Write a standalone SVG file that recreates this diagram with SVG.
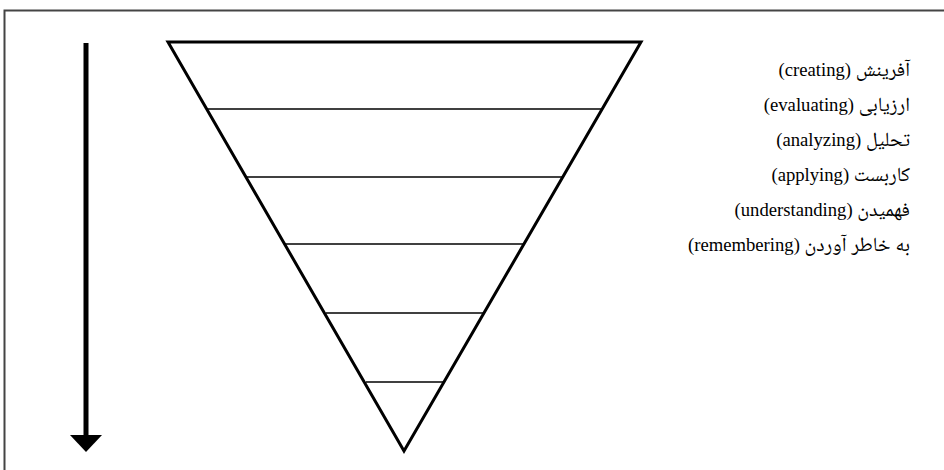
<svg xmlns="http://www.w3.org/2000/svg" width="944" height="470" viewBox="0 0 944 470">
<style>
.frame{fill:none;stroke:#444;stroke-width:2}
.tri{fill:#fff;stroke:#000;stroke-width:3;stroke-linejoin:miter}
.lvl{stroke:#000;stroke-width:1.5}
.lbl{font-family:"Liberation Serif","Noto Naskh Arabic","Noto Sans Arabic","DejaVu Sans",serif;font-size:18.67px;fill:#000;direction:rtl;unicode-bidi:embed}
.fa{font-size:20px}
</style>
<defs>
<marker id="ah" markerUnits="userSpaceOnUse" markerWidth="18" markerHeight="32" refX="0" refY="16" orient="auto" viewBox="0 0 18 32" overflow="visible">
<path d="M0,0 L17,16 L0,32 Z" fill="#000"/>
</marker>
</defs>
<rect x="4.5" y="10.5" width="944" height="470" class="frame"/>
<g id="connectors">
<line x1="86" y1="43" x2="86" y2="435" stroke="#000" stroke-width="5" marker-end="url(#ah)"/>
</g>
<g id="pyramid">
<polygon class="tri" points="168,42 641,42 404,451"/>
<line class="lvl" x1="207" y1="109" x2="602" y2="109"/>
<line class="lvl" x1="246" y1="177" x2="563" y2="177"/>
<line class="lvl" x1="285" y1="244" x2="524" y2="244"/>
<line class="lvl" x1="326" y1="313" x2="483" y2="313"/>
<line class="lvl" x1="366" y1="382" x2="443" y2="382"/>
</g>
<g id="labels">
<text id="l1" class="lbl" x="910" y="76"><tspan class="fa">آفرینش</tspan> (creating)</text>
<text id="l2" class="lbl" x="910" y="111"><tspan class="fa">ارزیابی</tspan> (evaluating)</text>
<text id="l3" class="lbl" x="910" y="146"><tspan class="fa">تحلیل</tspan> (analyzing)</text>
<text id="l4" class="lbl" x="910" y="181"><tspan class="fa">کاربست</tspan> (applying)</text>
<text id="l5" class="lbl" x="910" y="216"><tspan class="fa">فهمیدن</tspan> (understanding)</text>
<text id="l6" class="lbl" x="910" y="251"><tspan class="fa">به خاطر آوردن</tspan> (remembering)</text>
</g>
</svg>
